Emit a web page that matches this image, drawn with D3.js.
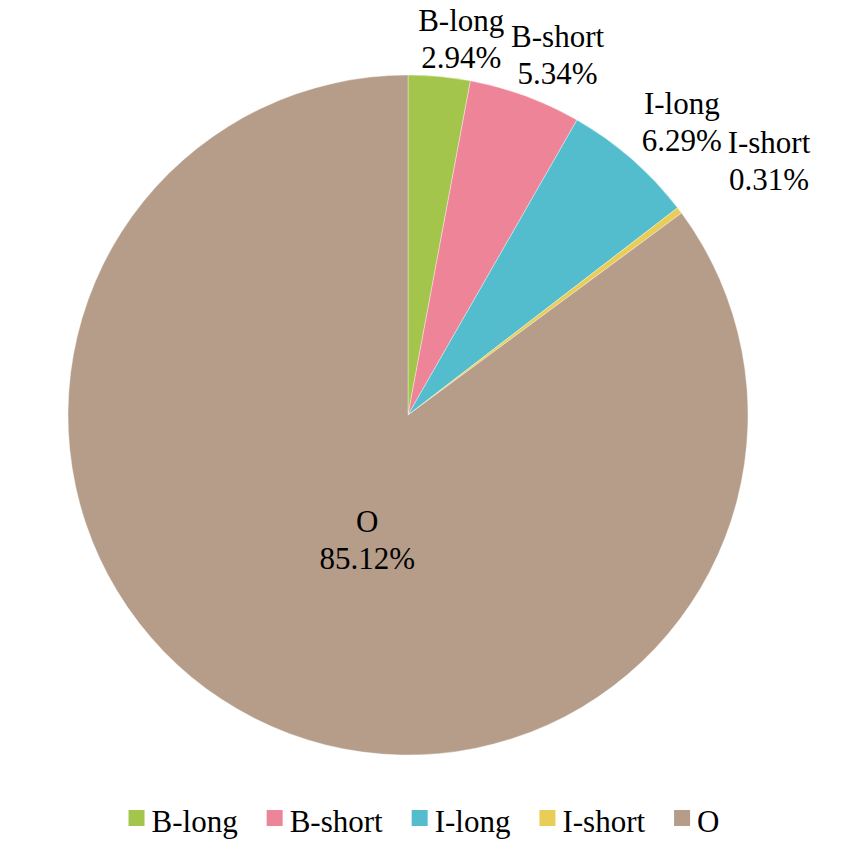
<!DOCTYPE html>
<html>
<head>
<meta charset="utf-8">
<script src="https://cdn.jsdelivr.net/npm/d3@7"></script>
<style>
  body { margin: 0; background: #fff; }
  text, tspan { font-family: "Liberation Serif", "Times New Roman", Times, serif; fill: #000; }
</style>
</head>
<body>
<div id="chart"></div>
<script>
// data
var categories = ["B-long", "B-short", "I-long", "I-short", "O"];
var shares = [2.94, 5.34, 6.29, 0.31, 85.12];
var colors = ["#A4C54B", "#EE8497", "#54BDCD", "#E9CD57", "#B59D8A"];

var width = 860,
  height = 852,
  cx = 408,
  cy = 415,
  radius = 340,
  fontSize = 31,
  lineGap = 37,
  serif = "'Liberation Serif', 'Times New Roman', serif";

var svg = d3.select("#chart")
  .append("svg")
  .attr("width", width)
  .attr("height", height);

var data = categories.map(function (c, i) {
  return { name: c, value: shares[i] };
});

var color = d3.scaleOrdinal()
  .domain(categories)
  .range(colors);

// clockwise from 12 o'clock, keep the order of the data
var pie = d3.pie()
  .sort(null)
  .value(function (d) { return d.value; });

var arcs = pie(data);

var arc = d3.arc()
  .innerRadius(0)
  .outerRadius(radius);

var g = svg.append("g")
  .attr("transform", "translate(" + cx + "," + cy + ")");

g.selectAll("path")
  .data(arcs)
  .enter()
  .append("path")
  .attr("d", arc)
  .attr("fill", function (d) { return color(d.data.name); })
  .attr("stroke", "#fff")
  .attr("stroke-width", 0.6)
  .attr("stroke-opacity", 0.6);

// labels: small slices go outside, big one inside
var labels = g.selectAll("g.lbl")
  .data(arcs)
  .enter()
  .append("g")
  .attr("class", "lbl");

labels.each(function (d) {
  d3.select(this).append("text")
    .attr("text-anchor", "middle")
    .attr("font-family", serif)
    .style("font-size", fontSize + "px")
    .selectAll("tspan")
    .data([d.data.name, d.data.value.toFixed(2) + "%"])
    .enter()
    .append("tspan")
    .attr("x", 0)
    .attr("y", function (t, i) { return i === 0 ? -lineGap / 2 : lineGap / 2; })
    .text(function (t) { return t; });
});

function hits(x, y, box, p) {
  var overlapY = (y + box.y < p.y + p.box.y + p.box.height) && (y + box.y + box.height > p.y + p.box.y);
  var overlapX = (x + box.x < p.x + p.box.x + p.box.width + 5) && (x + box.x + box.width + 5 > p.x + p.box.x);
  return overlapX && overlapY;
}

var placed = [];
labels.each(function (d) {
  var mid = (d.startAngle + d.endAngle) / 2;
  var box = this.getBBox();
  var x, y;
  if (d.endAngle - d.startAngle > Math.PI) {
    // inside label, a bit lower than the plain centroid
    var a0 = mid - 10 * Math.PI / 180;
    var r0 = radius * 0.415;
    x = r0 * Math.sin(a0);
    y = -r0 * Math.cos(a0);
  } else {
    var a = mid + 3 * Math.PI / 180;
    var r = radius + 25 + 43 * Math.sin(mid);
    x = r * Math.sin(a);
    y = -r * Math.cos(a);
    // move outward until it clears the labels already placed
    var tries = 0;
    while (placed.some(function (p) { return hits(x, y, box, p); }) && tries < 200) {
      r += 1;
      x = r * Math.sin(a);
      y = -r * Math.cos(a);
      tries++;
    }
    placed.push({ x: x, y: y, box: box });
  }
  d3.select(this).attr("transform", "translate(" + x + "," + y + ")");
});

// legend along the bottom
var legend = svg.append("g");
var sq = 16, pad = 7, gap = 29;
var cursor = 0;
data.forEach(function (d) {
  var item = legend.append("g").attr("transform", "translate(" + cursor + ",0)");
  item.append("rect")
    .attr("x", 0)
    .attr("y", -22)
    .attr("width", sq)
    .attr("height", sq)
    .attr("fill", color(d.name));
  var t = item.append("text")
    .attr("x", sq + pad)
    .attr("y", 0)
    .attr("font-family", serif)
    .style("font-size", fontSize + "px")
    .text(d.name);
  cursor += sq + pad + t.node().getComputedTextLength() + gap;
});
var legendW = cursor - gap;
legend.attr("transform", "translate(" + (424 - legendW / 2) + ",832)");
</script>
</body>
</html>
